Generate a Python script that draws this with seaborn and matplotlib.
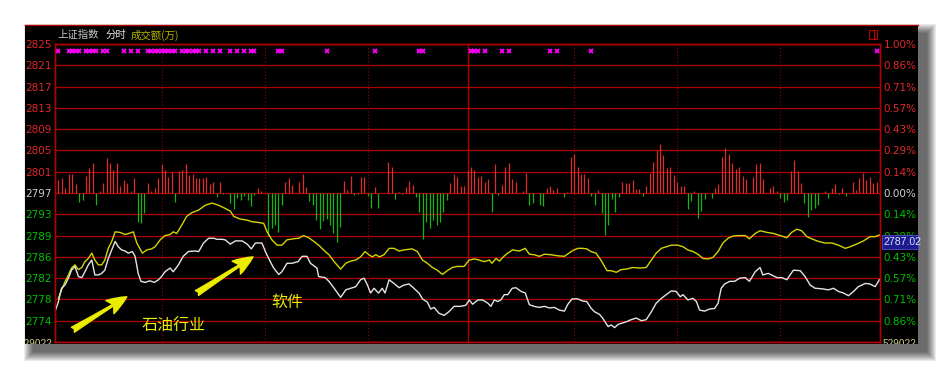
import numpy as np
import matplotlib
matplotlib.use("Agg")
import matplotlib.pyplot as plt
from matplotlib.patches import Rectangle
from matplotlib.lines import Line2D
from matplotlib.transforms import blended_transform_factory
import seaborn as sns

# ---------------- data ----------------
prev_close = 2797.2
step = 4.0
left_labels = ["2825", "2821", "2817", "2813", "2809", "2805", "2801", "2797",
               "2793", "2789", "2786", "2782", "2778", "2774"]
right_labels = ["1.00%", "0.86%", "0.71%", "0.57%", "0.43%", "0.29%", "0.14%", "0.00%",
                "0.14%", "0.29%", "0.43%", "0.57%", "0.71%", "0.86%"]
volume_label = "529022"
last_label = "2787.02"
title_parts = ["上证指数", "分时", "成交额(万)"]
notes = ["石油行业", "软件"]

white_min = [0, 1.0, 1.9, 2.9, 3.9, 4.8, 5.8, 6.8, 7.8, 8.7, 9.7, 10.7, 11.6, 12.6, 13.6, 14.5,
             15.5, 16.5, 17.5, 18.4, 19.4, 20.4, 21.3, 22.5, 23.3, 24.2, 25.0, 26.2, 27.6, 28.9,
             30.1, 31.0, 32.0, 33.5, 34.4, 35.9, 37.3, 38.8, 40.7, 41.8, 43.2, 44.7, 46.2, 47.1,
             48.6, 49.5, 51.0, 52.5, 54.4, 55.9, 57.1, 58.3, 60.2, 61.2, 62.4, 63.6, 65.1, 66.0,
             67.5, 69.0, 70.7, 71.9, 73.3, 74.3, 76.2, 76.7, 78.6, 79.7, 81.2, 83.1, 84.6, 86.0,
             87.5, 88.9, 89.9, 90.9, 91.8, 92.8, 94.1, 95.2, 96.0, 97.2, 98.6, 100.1, 101.5,
             103.0, 104.4, 105.9, 106.9, 108.3, 109.3, 110.3, 111.7, 113.2, 114.6, 116.1, 118.0,
             119.5, 120.5, 121.5, 123.0, 124.4, 125.9, 126.8, 127.8, 128.8, 129.7, 130.7, 131.7,
             133.0, 134.1, 135.6, 136.8, 138.0, 139.4, 140.9, 142.4, 143.8, 145.3, 146.7, 148.2,
             149.1, 150.4, 152.1, 153.5, 154.7, 155.9, 156.9, 158.4, 159.3, 160.9, 161.8, 162.8,
             163.8, 164.7, 166.2, 167.6, 169.1, 170.6, 172.0, 173.5, 174.9, 176.4, 177.8, 179.3,
             180.7, 181.9, 182.7, 184.1, 185.6, 186.6, 187.5, 189.0, 190.4, 191.9, 192.9, 193.8,
             194.8, 196.3, 197.7, 199.2, 200.8, 202.0, 203.7, 205.1, 205.9, 207.5, 210.0, 211.4,
             212.9, 214.8, 216.8, 218.2, 219.7, 221.1, 223.1, 225.0, 226.5, 227.9, 229.4, 230.8,
             232.3, 233.7, 235.7, 237.1, 238.6, 239.8]
white_val = [2774.9, 2776.8, 2779.3, 2779.9, 2781.2, 2782.7, 2783.4, 2781.5, 2781.3, 2782.4,
             2783.7, 2784.6, 2781.8, 2781.8, 2782.1, 2782.7, 2784.9, 2786.5, 2788.1, 2787.1,
             2786.5, 2786.3, 2785.9, 2786.2, 2785.3, 2782.1, 2780.6, 2780.4, 2780.7, 2780.4,
             2780.9, 2781.5, 2782.4, 2783.1, 2782.4, 2783.7, 2785.3, 2786.2, 2786.3, 2786.2,
             2787.8, 2788.7, 2788.7, 2788.5, 2788.5, 2788.4, 2787.6, 2788.2, 2788.2, 2787.6,
             2786.7, 2787.8, 2787.8, 2786.2, 2784.6, 2783.1, 2781.9, 2782.4, 2784.0, 2784.0,
             2784.3, 2785.3, 2785.3, 2784.0, 2783.1, 2781.5, 2781.3, 2780.6, 2779.3, 2777.6,
             2779.0, 2779.3, 2779.6, 2780.9, 2781.2, 2779.9, 2778.4, 2779.3, 2778.4, 2779.3,
             2778.4, 2780.9, 2780.2, 2779.4, 2779.9, 2780.1, 2779.3, 2778.4, 2777.3, 2776.7,
             2775.4, 2775.7, 2774.6, 2774.2, 2774.9, 2775.9, 2775.9, 2776.1, 2777.1, 2776.3,
             2777.1, 2777.1, 2776.5, 2775.9, 2777.1, 2776.8, 2777.1, 2778.1, 2778.1, 2779.3,
             2779.4, 2778.7, 2778.4, 2776.2, 2775.9, 2775.7, 2775.9, 2775.6, 2775.7, 2775.2,
             2775.0, 2776.2, 2777.3, 2777.3, 2776.9, 2776.8, 2775.6, 2774.9, 2774.4, 2773.7,
             2772.1, 2772.4, 2771.9, 2772.5, 2772.7, 2773.0, 2773.4, 2773.7, 2773.2, 2773.4,
             2774.9, 2776.5, 2777.4, 2778.1, 2778.8, 2778.7, 2777.7, 2778.1, 2777.1, 2777.4,
             2776.8, 2775.2, 2775.0, 2775.4, 2775.5, 2776.5, 2779.3, 2780.1, 2780.6, 2780.6,
             2781.2, 2781.3, 2780.6, 2782.4, 2783.2, 2781.8, 2782.1, 2781.3, 2781.3, 2780.9,
             2782.7, 2782.6, 2781.5, 2779.9, 2779.3, 2779.2, 2779.0, 2779.3, 2778.7, 2778.4,
             2777.9, 2778.7, 2779.6, 2780.2, 2780.1, 2779.6, 2780.9]

yellow_min = [1.0, 1.9, 2.9, 3.9, 4.8, 5.8, 6.8, 7.8, 8.7, 9.7, 10.7, 11.6, 12.6, 13.6, 14.5, 15.5,
              16.5, 17.5, 18.9, 20.4, 21.5, 22.8, 23.8, 25.4, 26.7, 28.1, 29.1, 30.6, 32.0, 33.5,
              34.4, 35.4, 36.9, 38.3, 39.8, 41.8, 43.7, 45.7, 47.6, 49.5, 51.0, 52.0, 53.9, 55.9,
              57.3, 58.8, 60.7, 61.7, 63.1, 64.6, 66.0, 67.5, 69.4, 70.9, 72.3, 73.8, 75.3, 76.7,
              78.6, 79.7, 81.2, 83.1, 84.6, 86.0, 87.5, 88.9, 90.2, 91.3, 92.3, 93.3, 94.4, 95.7,
              97.2, 98.6, 100.1, 101.5, 103.9, 105.4, 106.9, 108.3, 109.8, 111.2, 112.7, 114.1,
              115.6, 117.0, 119.0, 120.5, 122.0, 123.4, 124.9, 126.4, 127.1, 128.3, 129.3, 130.4,
              131.7, 133.1, 135.1, 136.8, 138.0, 139.4, 140.9, 142.4, 144.3, 146.2, 148.2, 150.4,
              152.1, 153.5, 154.7, 155.9, 157.4, 158.8, 160.6, 161.8, 163.3, 164.7, 166.2, 168.1,
              170.1, 172.0, 173.5, 174.9, 176.4, 177.8, 179.3, 181.2, 182.7, 184.1, 185.6, 187.0,
              188.5, 190.0, 191.4, 192.9, 194.3, 195.8, 197.2, 198.7, 200.8, 202.0, 203.7, 205.1,
              207.1, 209.0, 210.9, 212.9, 214.3, 215.8, 217.2, 218.7, 220.1, 222.1, 224.0, 226.0,
              227.9, 229.9, 231.3, 233.2, 235.2, 237.1, 238.6, 239.8]
yellow_val = [2777.4, 2779.0, 2780.5, 2781.8, 2783.1, 2783.7, 2782.8, 2783.2, 2784.3, 2784.9,
              2785.9, 2784.6, 2783.7, 2783.7, 2784.6, 2786.8, 2788.1, 2789.9, 2789.8, 2789.4,
              2789.6, 2789.9, 2787.8, 2785.9, 2786.5, 2786.7, 2787.1, 2788.4, 2789.2, 2789.4,
              2789.9, 2789.6, 2791.2, 2792.8, 2793.5, 2794.0, 2794.9, 2795.3, 2794.9, 2794.3,
              2793.8, 2792.8, 2792.3, 2792.1, 2791.8, 2791.7, 2791.5, 2789.9, 2788.4, 2787.4,
              2787.4, 2788.4, 2788.6, 2788.7, 2789.2, 2788.8, 2788.1, 2787.4, 2786.2, 2785.6,
              2784.3, 2782.9, 2784.0, 2784.4, 2784.6, 2785.2, 2786.2, 2785.6, 2785.2, 2785.6,
              2785.2, 2785.6, 2786.8, 2786.8, 2786.3, 2786.5, 2786.7, 2786.2, 2784.6, 2784.0,
              2783.2, 2782.7, 2781.9, 2782.6, 2783.2, 2783.4, 2783.4, 2784.6, 2784.8, 2784.6,
              2784.3, 2784.6, 2784.0, 2784.9, 2784.4, 2785.2, 2785.9, 2786.5, 2786.3, 2786.8,
              2785.7, 2785.6, 2785.3, 2785.7, 2785.6, 2785.4, 2785.3, 2786.3, 2786.8, 2786.8,
              2786.7, 2786.2, 2785.9, 2784.6, 2782.6, 2782.6, 2782.3, 2782.8, 2782.9, 2783.2,
              2783.1, 2783.2, 2784.6, 2785.9, 2786.8, 2787.1, 2787.4, 2787.4, 2787.1, 2786.5,
              2786.2, 2785.7, 2784.9, 2784.8, 2785.1, 2786.2, 2787.8, 2788.7, 2789.1, 2789.2,
              2789.2, 2788.6, 2789.6, 2790.1, 2789.8, 2789.6, 2789.2, 2788.8, 2789.8, 2790.4,
              2790.1, 2789.0, 2788.6, 2788.1, 2787.8, 2787.8, 2787.4, 2786.8, 2787.1, 2787.6,
              2788.2, 2789.0, 2789.0, 2789.3]

bar_min = [1, 2, 3, 4, 5, 6, 7, 8, 9, 10, 11, 12, 13, 14, 15, 16, 17, 18, 19, 20, 21, 22, 23, 24,
           25, 26, 27, 28, 29, 30, 31, 32, 33, 34, 35, 36, 37, 38, 39, 40, 41, 42, 43, 44, 45, 46,
           47, 48, 49, 51, 52, 53, 54, 55, 56, 57, 58, 59, 60, 62, 63, 64, 65, 66, 67, 68, 69, 71,
           72, 73, 74, 75, 76, 77, 78, 79, 80, 81, 82, 83, 84, 85, 86, 87, 88, 89, 90, 91, 92, 93,
           94, 97, 98, 99, 100, 101, 102, 103, 104, 105, 106, 107, 108, 109, 110, 111, 112, 113,
           114, 115, 116, 117, 118, 119, 120, 121, 122, 123, 124, 125, 126, 127, 128, 129, 130,
           131, 132, 133, 134, 136, 137, 138, 139, 141, 142, 143, 144, 145, 146, 148, 149, 150,
           151, 152, 153, 154, 155, 156, 157, 158, 159, 160, 161, 162, 163, 164, 165, 166, 167,
           168, 169, 170, 171, 172, 173, 174, 175, 176, 177, 178, 179, 180, 181, 182, 183, 184,
           185, 186, 187, 188, 189, 191, 192, 193, 194, 195, 196, 197, 198, 199, 200, 201, 203,
           204, 205, 206, 208, 209, 210, 211, 212, 213, 214, 215, 216, 217, 218, 219, 220, 221,
           222, 224, 225, 226, 227, 228, 229, 230, 232, 233, 234, 235, 236, 237, 238, 239, 240]
bar_val = [2.4, 2.75, 0.9, 3.5, 3.6, 1.6, -1.75, -1.3, 3.25, 4.75, 5.6, -2.2, 0.3, 1.85, 6.6, 5.6,
           4.3, 5.6, 1.4, 2.4, 1.8, 0.4, 2.75, -5.5, -5.6, -3.8, 1.85, 0.4, 0.9, 2.9, 5.4, 4.3,
           3.1, 4.0, -1.75, 4.1, 4.3, 5.4, 3.3, 3.5, 2.75, 2.9, 2.9, 3.1, 1.6, 2.0, -0.7, 2.0,
           -0.25, -1.8, -3.1, -0.9, -1.3, -0.5, -1.3, -2.5, -0.4, 0.9, 0.4, -8.1, -6.5, -6.0,
           -7.3, -2.3, 2.1, 2.75, 1.5, 2.0, 3.5, 1.15, -1.5, -2.25, -5.0, -6.7, -5.2, -4.8, -6.0,
           -7.6, -9.2, -6.4, 2.2, 0.5, 3.2, -0.4, -0.25, 3.05, 3.05, -0.65, -2.75, 1.1, -2.75,
           5.8, 4.8, -1.1, 0.2, -0.2, 1.1, 2.2, 1.45, -0.7, -3.5, -8.7, -5.4, -6.5, -5.0, -6.1,
           -5.5, -3.5, -1.35, 1.8, 3.65, 3.0, 1.3, 1.4, 4.1, 4.9, 4.4, 2.95, 3.15, 2.05, 2.7,
           -3.5, 5.4, -0.3, 1.55, 4.8, 5.65, 2.7, 2.1, 0.4, 3.8, -2.2, -1.8, -2.3, -2.35, 0.9,
           1.25, 0.55, 0.9, -0.75, 0.25, 6.8, 7.4, 4.8, 3.5, 3.5, 2.8, -0.5, -2.2, 0.6, -3.85,
           -7.8, -6.0, -1.05, -3.5, -0.7, 2.1, 1.8, 1.8, 2.4, 0.75, 0.75, -0.5, 1.4, 3.7, 5.75,
           8.1, 9.2, 7.1, 4.75, 4.9, 3.4, 2.0, 1.4, 1.4, -3.0, -1.5, 0.4, -4.75, -3.4, -1.1,
           -1.0, 1.0, 1.6, 6.8, 8.5, 7.4, 5.6, 4.5, 4.9, 3.2, 2.6, 3.1, 5.4, 5.6, 2.6, 1.0, 1.4,
           0.4, -1.0, -1.6, -1.3, 4.1, 6.2, 4.1, 1.8, -1.9, -4.45, -3.2, -2.75, -2.25, 0.4, -0.9,
           1.0, 1.6, -0.25, 1.0, -0.5, 2.0, 0.6, 2.75, 3.7, 2.4, 3.1, 1.8, 2.0, 3.1]

mark_min = [1, 4, 5, 6, 7, 9, 10, 11, 12, 14, 15, 20, 22, 24, 27, 28, 29, 30, 31, 32, 33, 34, 35,
            37, 38, 39, 40, 41, 42, 44, 46, 48, 51, 53, 55, 57, 58, 65, 66, 79, 93, 106, 107,
            121, 122, 123, 125, 130, 132, 144, 146, 156, 239]
mark_level = 2823.9

# ---------------- layout helpers ----------------
W, H = 944, 369
def fx(x):
    return x / W
def fy(y):
    return 1 - y / H

fig = plt.figure(figsize=(9.44, 3.69), dpi=100, facecolor="white")

# drop shadow
for k in range(10):
    fig.add_artist(Rectangle((fx(33 - k), fy(352 + k)), fx(927 + k) - fx(33 - k),
                             fy(33 - k) - fy(352 + k), transform=fig.transFigure,
                             facecolor="black", edgecolor="none", alpha=0.08, zorder=-5))

# black panel
ax_bg = fig.add_axes([fx(25), fy(344), fx(918) - fx(25), fy(25) - fy(344)])
ax_bg.set_facecolor("black")
ax_bg.set_xticks([])
ax_bg.set_yticks([])
for s in ["left", "right", "bottom"]:
    ax_bg.spines[s].set_visible(False)
ax_bg.spines["top"].set_color("#b00000")
ax_bg.spines["top"].set_linewidth(1.0)
ax_bg.set_zorder(0)

# main plotting axes
ax = fig.add_axes([fx(55), fy(342), fx(880) - fx(55), fy(44) - fy(342)])
ax.patch.set_alpha(0)
ax.set_zorder(1)
ymin, ymax = prev_close - 7 * step, prev_close + 7 * step
ax.set_xlim(0, 240)
ax.set_ylim(ymin, ymax)

grid_red = "#b00000"
lab_red = "#e02828"
lab_green = "#00c000"
lab_white = "#d0d0d0"

tick_pos = prev_close + step * np.arange(7, -7, -1)
ax.set_xticks([])
ax.set_yticks(tick_pos)
ax.set_yticklabels(left_labels)
ax.tick_params(axis="y", length=0, pad=2.2, labelsize=7.5)
for i, t in enumerate(ax.get_yticklabels()):
    t.set_color(lab_red if i < 7 else (lab_white if i == 7 else lab_green))

ax2 = ax.twinx()
ax2.set_ylim(ymin, ymax)
ax2.set_yticks(tick_pos)
ax2.set_yticklabels(right_labels)
ax2.tick_params(axis="y", length=0, pad=2.5, labelsize=7.5)
for i, t in enumerate(ax2.get_yticklabels()):
    t.set_color(lab_red if i < 7 else (lab_white if i == 7 else lab_green))

for a in (ax, ax2):
    for s in a.spines.values():
        s.set_color(grid_red)
        s.set_linewidth(1.0)

# horizontal grid
for k in range(-7, 8):
    ax.axhline(prev_close + k * step, color=grid_red, lw=0.9, zorder=1)

# vertical time grid (half-hour marks) and midday separator
for m in [31, 61, 91, 151, 181, 211]:
    ax.axvline(m, color="#9a0000", lw=0.8, ls=(0, (1, 2)), zorder=1)
ax.axvline(120, color=grid_red, lw=1.0, zorder=1)

# red / green strength bars
bm = np.array(bar_min)
bv = np.array(bar_val)
up = bv > 0
ax.vlines(bm[up], prev_close, prev_close + bv[up], color="#dc2c2c", lw=0.9, zorder=2)
ax.vlines(bm[~up], prev_close, prev_close + bv[~up], color="#14b414", lw=0.9, zorder=2)

# lines
sns.lineplot(x=yellow_min, y=yellow_val, ax=ax, color="#d4d400", lw=1.0,
             estimator=None, sort=False, zorder=3)
sns.lineplot(x=white_min, y=white_val, ax=ax, color="#e4e4e4", lw=1.0,
             estimator=None, sort=False, zorder=4)

# magenta markers
ax.plot(mark_min, [mark_level] * len(mark_min), ls="none", marker="x", ms=3.4,
        mew=1.3, color="#ff00ff", zorder=4)

# annotations
yel = "#ecec00"
cjk = ["Noto Sans CJK SC", "DejaVu Sans"]
astyle = "fancy,head_length=1.1,head_width=0.85,tail_width=0.32"
ax.annotate("", xy=(20.9, 2777.7), xytext=(5.2, 2771.5),
            arrowprops=dict(arrowstyle=astyle, fc=yel, ec=yel, mutation_scale=13,
                            shrinkA=0, shrinkB=0), zorder=5)
ax.annotate("", xy=(57.6, 2785.2), xytext=(41.3, 2778.4),
            arrowprops=dict(arrowstyle=astyle, fc=yel, ec=yel, mutation_scale=13,
                            shrinkA=0, shrinkB=0), zorder=5)
ax.text(34.6, 2772.2, notes[0], ha="center", va="center", fontsize=11.5, color=yel,
        family=cjk, zorder=5)
ax.text(67.6, 2776.7, notes[1], ha="center", va="center", fontsize=11.5, color=yel,
        family=cjk, zorder=5)

# clipped volume labels at the bottom grid line
trans = blended_transform_factory(ax_bg.transAxes, ax.transData)
vol_font = ["Liberation Sans", "DejaVu Sans"]
ax_bg.text((52 - 25) / 893, ymin - 0.3, volume_label, ha="right", va="center", fontsize=7.2,
           color="#cfcf90", family=vol_font, transform=trans, clip_on=True)
ax_bg.text((883 - 25) / 893, ymin - 0.3, volume_label, ha="left", va="center", fontsize=7.2,
           color="#cfcf90", family=vol_font, transform=trans, clip_on=True)

# title
fig.text(fx(57), fy(35), title_parts[0], ha="left", va="center", fontsize=7.5,
         color="#c8c8c8", family=cjk)
fig.text(fx(106), fy(35), title_parts[1], ha="left", va="center", fontsize=7.5,
         color="#e8e8e8", family=cjk)
fig.text(fx(131), fy(35), title_parts[2], ha="left", va="center", fontsize=7.5,
         color="#b8b800", family=cjk)

# small icon top right
fig.add_artist(Rectangle((fx(869), fy(38.5)), fx(877) - fx(869), fy(29.5) - fy(38.5),
                         transform=fig.transFigure, facecolor="none", edgecolor="#c00000",
                         lw=0.8, zorder=6))
fig.add_artist(Line2D([fx(874), fx(874)], [fy(38.5), fy(29.5)], transform=fig.transFigure,
                      color="#c00000", lw=0.8, zorder=6))

# last value box on the right (covers the lower half of the "0.29%" label, as in the source)
fig.add_artist(Rectangle((fx(881.5), fy(248.5)), fx(918) - fx(881.5), fy(235.5) - fy(248.5),
                         transform=fig.transFigure, facecolor="#1c1c8e", edgecolor="#5050c8",
                         lw=0.6, zorder=6))
fig.text(fx(883), fy(242.3), last_label, ha="left", va="center", fontsize=7.6,
         color="#dcdcff", family=["Liberation Sans", "DejaVu Sans"], zorder=7)

fig.savefig("out.png", dpi=100, facecolor="white")
